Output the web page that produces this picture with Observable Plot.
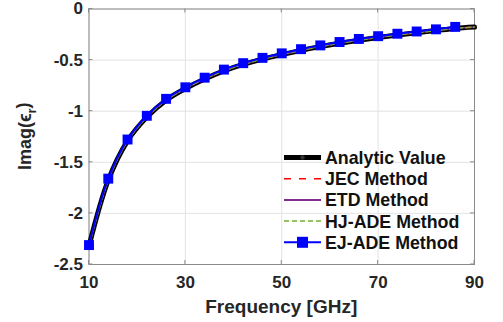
<!DOCTYPE html>
<html>
<head>
<meta charset="utf-8">
<script src="https://cdn.jsdelivr.net/npm/d3@7"></script>
<script src="https://cdn.jsdelivr.net/npm/@observablehq/plot@0.6"></script>
<style>
  html, body { margin: 0; padding: 0; background: #fff; }
  #chart { width: 503px; height: 322px; }
</style>
</head>
<body>
<div id="chart"></div>
<script>
// Frequency samples (GHz)
const freq = [10, 14, 18, 22, 26, 30, 34, 38, 42, 46, 50, 54, 58, 62, 66, 70, 74, 78, 82, 86, 90];
// Analytic value (thick black curve)
const analytic = [-2.32, -1.675, -1.29, -1.058, -0.892, -0.778, -0.684, -0.605, -0.542, -0.490, -0.446, -0.405, -0.368, -0.335, -0.305, -0.278, -0.254, -0.232, -0.211, -0.190, -0.177];
// Numerical methods
const jec = [-2.32, -1.675, -1.29, -1.058, -0.892, -0.778, -0.684, -0.605, -0.542, -0.490, -0.446, -0.405, -0.368, -0.335, -0.305, -0.278, -0.254, -0.232, -0.211, -0.190, -0.177];
const etd = [-2.32, -1.675, -1.29, -1.058, -0.892, -0.778, -0.684, -0.605, -0.542, -0.490, -0.446, -0.405, -0.368, -0.335, -0.305, -0.278, -0.254, -0.232, -0.211, -0.190, -0.177];
const hjade = [-2.32, -1.675, -1.29, -1.058, -0.892, -0.778, -0.684, -0.605, -0.542, -0.490, -0.446, -0.405, -0.368, -0.335, -0.305, -0.278, -0.254, -0.232, -0.211, -0.190, -0.177];
const ejFreq = [10, 14, 18, 22, 26, 30, 34, 38, 42, 46, 50, 54, 58, 62, 66, 70, 74, 78, 82, 86];
const ejade = [-2.31, -1.66, -1.277, -1.045, -0.879, -0.766, -0.672, -0.593, -0.530, -0.478, -0.434, -0.393, -0.356, -0.323, -0.293, -0.266, -0.242, -0.220, -0.199, -0.175];
// Axis ticks
const xTicks = [10, 30, 50, 70, 90];
const yTicks = [0, -0.5, -1, -1.5, -2, -2.5];
const yTickLabels = ["0", "-0.5", "-1", "-1.5", "-2", "-2.5"];
// Legend
const seriesNames = ["Analytic Value", "JEC Method", "ETD Method", "HJ-ADE Method", "EJ-ADE Method"];
const seriesColors = ["#000000", "#FF0000", "#7E2F8E", "#77AC30", "#0000FF"];

const toRows = (xs, ys) => xs.map((f, i) => ({f, v: ys[i]}));
const rowsA = toRows(freq, analytic);
const rowsJ = toRows(freq, jec);
const rowsE = toRows(freq, etd);
const rowsH = toRows(freq, hjade);
const rowsEJ = toRows(ejFreq, ejade);

const font = "'Liberation Sans', Arial, sans-serif";
const curve = "catmull-rom";

const plot = Plot.plot({
  width: 503,
  height: 322,
  marginLeft: 88.5,
  marginRight: 29,
  marginTop: 8.5,
  marginBottom: 58,
  style: {fontFamily: font, fontWeight: "bold", background: "#fff", color: "#262626", overflow: "visible"},
  x: {domain: [10, 90], label: null},
  y: {domain: [-2.5, 0], label: null},
  marks: [
    Plot.gridX(xTicks, {stroke: "#e3e3e3", strokeOpacity: 1, strokeWidth: 1}),
    Plot.gridY(yTicks, {stroke: "#e3e3e3", strokeOpacity: 1, strokeWidth: 1}),
    Plot.frame({stroke: "#8a8a8a", strokeWidth: 1}),
    Plot.line(rowsA, {x: "f", y: "v", stroke: seriesColors[0], strokeWidth: 5, curve, strokeLinecap: "round"}),
    Plot.line(rowsJ, {x: "f", y: "v", stroke: seriesColors[1], strokeWidth: 1.5, strokeDasharray: "6,4", curve}),
    Plot.line(rowsE, {x: "f", y: "v", stroke: seriesColors[2], strokeWidth: 1.5, curve}),
    Plot.line(rowsH, {x: "f", y: "v", stroke: seriesColors[3], strokeWidth: 1.5, strokeDasharray: "5,3", curve}),
    Plot.line(rowsEJ, {x: "f", y: "v", stroke: seriesColors[4], strokeWidth: 2, curve}),
    Plot.dot(rowsEJ, {x: "f", y: "v", symbol: "square", r: 5.6, fill: seriesColors[4], stroke: "none"}),
    Plot.axisX(xTicks, {tickSize: 0, tickPadding: 11, fontSize: 17, fontWeight: "bold", fill: "#262626"}),
    Plot.axisY(yTicks, {tickSize: 0, tickPadding: 6, fontSize: 17, fontWeight: "bold", fill: "#262626",
      tickFormat: d => yTickLabels[yTicks.indexOf(d)]})
  ]
});

const svg = d3.select(plot);
const xs = plot.scale("x"), ys = plot.scale("y");
const x0 = xs.range[0], x1 = xs.range[1];
const y0 = ys.range[0], y1 = ys.range[1];

// inward tick marks (MATLAB style)
const tg = svg.append("g").attr("stroke", "#8a8a8a").attr("stroke-width", 1);
xTicks.forEach(t => {
  const px = xs.apply(t);
  tg.append("line").attr("x1", px).attr("x2", px).attr("y1", y0).attr("y2", y0 - 4);
  tg.append("line").attr("x1", px).attr("x2", px).attr("y1", y1).attr("y2", y1 + 4);
});
yTicks.forEach(t => {
  const py = ys.apply(t);
  tg.append("line").attr("y1", py).attr("y2", py).attr("x1", x0).attr("x2", x0 + 4);
  tg.append("line").attr("y1", py).attr("y2", py).attr("x1", x1).attr("x2", x1 - 4);
});

// axis labels
svg.append("text")
  .attr("x", (x0 + x1) / 2).attr("y", 313)
  .attr("text-anchor", "middle")
  .attr("font-family", font).attr("font-weight", "bold").attr("font-size", 19).attr("fill", "#262626")
  .text("Frequency [GHz]");

const yl = svg.append("text")
  .attr("transform", `translate(31,${(y0 + y1) / 2}) rotate(-90)`)
  .attr("text-anchor", "middle")
  .attr("font-family", font).attr("font-weight", "bold").attr("font-size", 18).attr("fill", "#262626");
yl.append("tspan").text("Imag(\u03F5");
yl.append("tspan").attr("font-size", 13).attr("dy", "0.35em").text("r");
yl.append("tspan").attr("dy", "-0.35em").text(")");

// legend
const lg = svg.append("g").attr("text-anchor", "start");
const ly0 = 157.5, ldy = 21.2, lxa = 284, lxb = 321, ltx = 325;
seriesNames.forEach((name, i) => {
  const y = ly0 + i * ldy;
  const line = lg.append("line").attr("x1", lxa).attr("x2", lxb).attr("y1", y).attr("y2", y)
    .attr("stroke", seriesColors[i]);
  if (i === 0) {
    line.attr("stroke-width", 5);
    lg.append("circle").attr("cx", (lxa + lxb) / 2).attr("cy", y).attr("r", 2.2).attr("fill", "#333");
  } else if (i === 1) {
    line.attr("stroke-width", 1.5).attr("stroke-dasharray", "7,8");
  } else if (i === 2) {
    line.attr("stroke-width", 2);
  } else if (i === 3) {
    line.attr("stroke-width", 1.5).attr("stroke-dasharray", "5,3");
  } else {
    line.attr("stroke-width", 2);
    lg.append("rect").attr("x", (lxa + lxb) / 2 - 5.5).attr("y", y - 5.5).attr("width", 11).attr("height", 11).attr("fill", seriesColors[4]);
  }
  lg.append("text").attr("x", ltx).attr("y", y).attr("dy", "0.36em").attr("text-anchor", "start")
    .attr("font-family", font).attr("font-weight", "bold").attr("font-size", 17.8).attr("fill", "#111")
    .text(name);
});

document.getElementById("chart").appendChild(plot);
</script>
</body>
</html>
